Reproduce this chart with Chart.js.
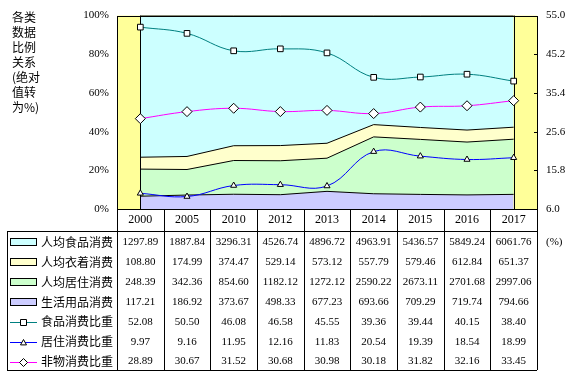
<!DOCTYPE html>
<html>
<head>
<meta charset="utf-8">
<script src="https://cdn.jsdelivr.net/npm/chart.js@4"></script>
<style>
    html, body { margin: 0; padding: 0; background: #fff; }
</style>
</head>
<body>
<canvas id="chart" width="576" height="376"></canvas>
<script>
// Data
const years = ['2000', '2005', '2010', '2012', '2013', '2014', '2015', '2016', '2017'];
const foodSpend = [1297.89, 1887.84, 3296.31, 4526.74, 4896.72, 4963.91, 5436.57, 5849.24, 6061.76];
const clothSpend = [108.80, 174.99, 374.47, 529.14, 573.12, 557.79, 579.46, 612.84, 651.37];
const houseSpend = [248.39, 342.36, 854.60, 1182.12, 1272.12, 2590.22, 2673.11, 2701.68, 2997.06];
const dailySpend = [117.21, 186.92, 373.67, 498.33, 677.23, 693.66, 709.29, 719.74, 794.66];
const foodRatio = [52.08, 50.50, 46.08, 46.58, 45.55, 39.36, 39.44, 40.15, 38.40];
const houseRatio = [9.97, 9.16, 11.95, 12.16, 11.83, 20.54, 19.39, 18.54, 18.99];
const nonMatRatio = [28.89, 30.67, 31.52, 30.68, 30.98, 30.18, 31.82, 32.16, 33.45];
const leftTicks = [0, 20, 40, 60, 80, 100];
const rightTicks = [6.0, 15.8, 25.6, 35.4, 45.2, 55.0];
const titleLines = ['各类', '数据', '比例', '关系', '(绝对', '值转', '为%)'];
const unitLabel = '(%)';

// Stacked percentage (absolute values turned into %)
const totals = years.map((_, i) => foodSpend[i] + clothSpend[i] + houseSpend[i] + dailySpend[i]);
const pct = arr => arr.map((v, i) => v / totals[i] * 100);

// Table rows (legend key + values)
const tableRows = [
    { name: '人均食品消费', values: foodSpend, kind: 'area', color: '#CCFFFF' },
    { name: '人均衣着消费', values: clothSpend, kind: 'area', color: '#FFFFCC' },
    { name: '人均居住消费', values: houseSpend, kind: 'area', color: '#CCFFCC' },
    { name: '生活用品消费', values: dailySpend, kind: 'area', color: '#CCCCFF' },
    { name: '食品消费比重', values: foodRatio, kind: 'line', color: '#008080', marker: 'rect' },
    { name: '居住消费比重', values: houseRatio, kind: 'line', color: '#0000FF', marker: 'triangle' },
    { name: '非物消费比重', values: nonMatRatio, kind: 'line', color: '#FF00FF', marker: 'rectRot' }
];

const SERIF = '"Liberation Serif", "Times New Roman", serif';
const CJK = '"Noto Sans CJK SC", sans-serif';

function lineSet(label, data, color, style, radius) {
    return {
        label: label,
        data: data,
        yAxisID: 'y2',
        borderColor: color,
        borderWidth: 1,
        pointStyle: style,
        pointRadius: radius,
        pointBackgroundColor: '#fff',
        pointBorderColor: '#000',
        pointBorderWidth: 1,
        tension: 0.4,
        fill: false,
        order: 0
    };
}

function areaSet(label, data, color, fill) {
    return {
        label: label,
        data: data,
        yAxisID: 'y',
        stack: 'share',
        backgroundColor: color,
        borderColor: '#000',
        borderWidth: 1,
        pointRadius: 0,
        tension: 0,
        fill: fill,
        order: 1
    };
}

const px = v => Math.round(v) + 0.5;

function drawMarker(ctx, style, x, y, r) {
    ctx.save();
    ctx.fillStyle = '#fff';
    ctx.strokeStyle = '#000';
    ctx.lineWidth = 1;
    ctx.beginPath();
    if (style === 'rect') {
        ctx.rect(x - r, y - r, r * 2, r * 2);
    } else if (style === 'triangle') {
        ctx.moveTo(x, y - r);
        ctx.lineTo(x + r, y + r * 0.8);
        ctx.lineTo(x - r, y + r * 0.8);
        ctx.closePath();
    } else {
        ctx.moveTo(x - r, y);
        ctx.lineTo(x, y - r);
        ctx.lineTo(x + r, y);
        ctx.lineTo(x, y + r);
        ctx.closePath();
    }
    ctx.fill();
    ctx.stroke();
    ctx.restore();
}

const tablePlugin = {
    id: 'tablePlugin',
    beforeDraw(chart) {
        const { ctx, chartArea: a } = chart;
        ctx.save();
        ctx.fillStyle = '#fff';
        ctx.fillRect(0, 0, chart.width, chart.height);
        ctx.fillStyle = '#FFFF99';
        ctx.fillRect(a.left, a.top, a.right - a.left, a.bottom - a.top);
        ctx.restore();
    },
    afterDatasetDraw(chart, args) {
        // outline edges of the area block at first and last category
        if (args.index !== 3) return;
        const { ctx, chartArea: a, scales } = chart;
        ctx.save();
        ctx.strokeStyle = '#000';
        ctx.lineWidth = 1;
        [0, years.length - 1].forEach(i => {
            const x = px(scales.x.getPixelForValue(i));
            ctx.beginPath();
            ctx.moveTo(x, a.top);
            ctx.lineTo(x, a.bottom);
            ctx.stroke();
        });
        ctx.restore();
    },
    afterDraw(chart) {
        const { ctx, chartArea: a, scales } = chart;
        const colW = (a.right - a.left) / years.length;
        const headTop = a.bottom;
        const headBottom = headTop + 22;
        const rowH = 19.86;
        const tableBottom = headBottom + rowH * tableRows.length;
        const keyLeft = 7;

        ctx.save();
        ctx.strokeStyle = '#000';
        ctx.lineWidth = 1;

        // plot border
        ctx.strokeRect(px(a.left), px(a.top), Math.round(a.right - a.left), Math.round(a.bottom - a.top));

        // inward ticks on right axis
        rightTicks.slice(1, -1).forEach(v => {
            const y = px(scales.y2.getPixelForValue(v));
            ctx.beginPath();
            ctx.moveTo(a.right - 3, y);
            ctx.lineTo(a.right, y);
            ctx.stroke();
        });

        // table grid
        ctx.beginPath();
        for (let i = 0; i <= years.length; i++) {
            const x = px(a.left + i * colW);
            ctx.moveTo(x, headTop);
            ctx.lineTo(x, tableBottom);
        }
        ctx.moveTo(keyLeft, px(headBottom));
        ctx.lineTo(a.right, px(headBottom));
        ctx.moveTo(keyLeft, px(tableBottom));
        ctx.lineTo(a.right, px(tableBottom));
        ctx.moveTo(px(keyLeft), px(headBottom));
        ctx.lineTo(px(keyLeft), px(tableBottom));
        ctx.stroke();

        // header years
        ctx.fillStyle = '#000';
        ctx.textAlign = 'center';
        ctx.textBaseline = 'middle';
        ctx.font = '12px ' + SERIF;
        years.forEach((y, i) => {
            ctx.fillText(y, scales.x.getPixelForValue(i), headTop + 11);
        });

        // rows
        tableRows.forEach((row, r) => {
            const cy = headBottom + rowH * (r + 0.5) + 1.5;
            // legend key
            if (row.kind === 'area') {
                ctx.fillStyle = row.color;
                ctx.fillRect(10.5, Math.round(cy - 4) + 0.5, 26, 7);
                ctx.strokeStyle = '#000';
                ctx.strokeRect(10.5, Math.round(cy - 4) + 0.5, 26, 7);
            } else {
                ctx.strokeStyle = row.color;
                ctx.beginPath();
                ctx.moveTo(10, px(cy));
                ctx.lineTo(37, px(cy));
                ctx.stroke();
                drawMarker(ctx, row.marker, 23.5, px(cy), row.marker === 'rectRot' ? 4 : 3);
            }
            ctx.fillStyle = '#000';
            ctx.textAlign = 'left';
            ctx.font = '12px ' + CJK;
            ctx.fillText(row.name, 41, cy);
            ctx.textAlign = 'center';
            ctx.font = '11px ' + SERIF;
            row.values.forEach((v, i) => {
                ctx.fillText(v.toFixed(2), scales.x.getPixelForValue(i), cy);
            });
        });

        // unit label
        ctx.textAlign = 'left';
        ctx.font = '11px ' + SERIF;
        ctx.fillText(unitLabel, 546, headBottom + rowH * 0.5 + 1.5);

        // title at left
        ctx.font = '12px ' + CJK;
        titleLines.forEach((t, i) => {
            ctx.fillText(t, 12, 17 + i * 15);
        });
        ctx.restore();
    }
};

Chart.defaults.font.family = SERIF;
Chart.defaults.color = '#000';

new Chart(document.getElementById('chart'), {
    type: 'line',
    data: {
        labels: years,
        datasets: [
            lineSet('食品消费比重', foodRatio, '#008080', 'rect', 4),
            lineSet('居住消费比重', houseRatio, '#0000FF', 'triangle', 3.5),
            lineSet('非物消费比重', nonMatRatio, '#FF00FF', 'rectRot', 5),
            areaSet('生活用品消费', pct(dailySpend), '#CCCCFF', 'origin'),
            areaSet('人均居住消费', pct(houseSpend), '#CCFFCC', '-1'),
            areaSet('人均衣着消费', pct(clothSpend), '#FFFFCC', '-1'),
            areaSet('人均食品消费', pct(foodSpend), '#CCFFFF', '-1')
        ]
    },
    options: {
        responsive: false,
        animation: false,
        events: [],
        layout: { padding: { top: 15, bottom: 167, left: 0, right: 0 } },
        plugins: {
            legend: { display: false },
            tooltip: { enabled: false }
        },
        scales: {
            x: {
                type: 'category',
                offset: true,
                display: false
            },
            y: {
                position: 'left',
                stacked: true,
                min: 0,
                max: 100,
                afterFit: s => { s.width = 117; },
                afterBuildTicks: s => { s.ticks = leftTicks.map(v => ({ value: v })); },
                grid: { display: false, drawTicks: false },
                border: { display: false },
                ticks: {
                    padding: 8,
                    font: { size: 11 },
                    callback: v => v + '%'
                }
            },
            y2: {
                position: 'right',
                min: 6,
                max: 55,
                afterFit: s => { s.width = 39; },
                afterBuildTicks: s => { s.ticks = rightTicks.map(v => ({ value: v })); },
                grid: { display: false, drawTicks: false },
                border: { display: false },
                ticks: {
                    padding: 9,
                    font: { size: 11 },
                    callback: v => Number(v).toFixed(1)
                }
            }
        }
    },
    plugins: [tablePlugin]
});
</script>
</body>
</html>
